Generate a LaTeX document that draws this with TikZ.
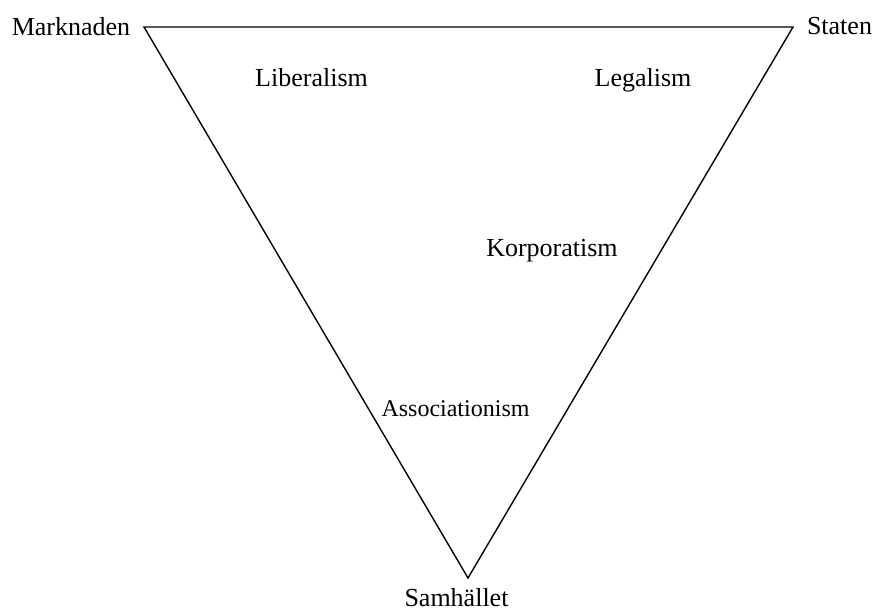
\documentclass[tikz,border=0pt]{standalone}
\usepackage{fontspec}
\setmainfont{Liberation Serif}
\begin{document}
\begin{tikzpicture}[x=1pt,y=1pt,
  lbl/.style={anchor=base,inner sep=0pt,font=\fontsize{26}{30}\selectfont},
  lblsmall/.style={anchor=base,inner sep=0pt,font=\fontsize{24}{28}\selectfont},
  edge/.style={draw=black,line width=1.4pt,line join=miter}]
\useasboundingbox (0,0) rectangle (875,612);
\coordinate (vm) at (144,585);
\coordinate (vs) at (793,585);
\coordinate (vc) at (468,34);
\draw[edge] (vm) -- (vs) -- (vc) -- cycle;
\node[lbl] (marknaden) at (71,576) {Marknaden};
\node[lbl] (staten) at (839.5,577) {Staten};
\node[lbl] (samhallet) at (456.5,5) {Samhället};
\node[lbl] (liberalism) at (311.5,525) {Liberalism};
\node[lbl] (legalism) at (643,525) {Legalism};
\node[lbl] (korporatism) at (552,355) {Korporatism};
\node[lblsmall] (assoc) at (455.5,195) {Associationism};
\end{tikzpicture}
\end{document}
